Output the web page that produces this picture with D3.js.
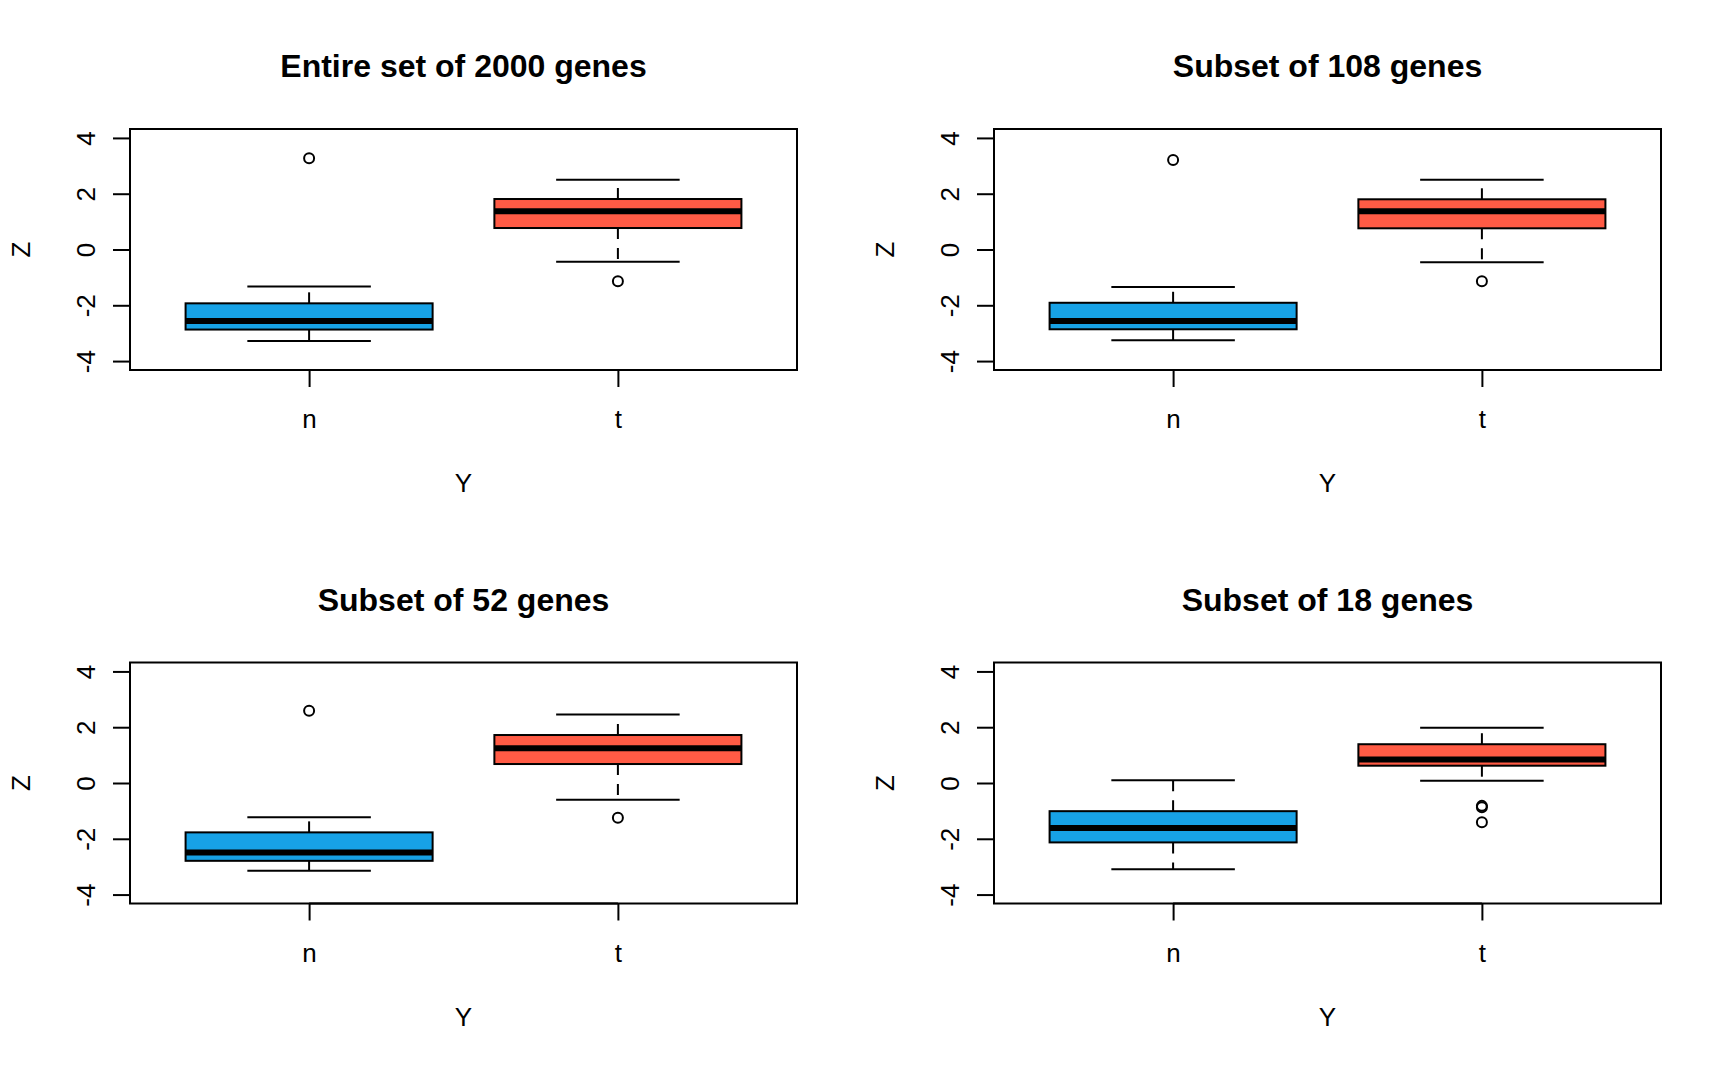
<!DOCTYPE html>
<html>
<head>
<meta charset="utf-8">
<script src="https://cdn.jsdelivr.net/npm/d3@7"></script>
<style>
  body { margin: 0; background: #fff; }
  svg { display: block; }
  text { font-family: "Liberation Sans", Arial, Helvetica, sans-serif; fill: #000; }
</style>
</head>
<body>
<svg id="chart" width="1728" height="1067"></svg>
<script>
// values: [lower whisker, Q1, median, Q3, upper whisker]
var panelTitles = ["Entire set of 2000 genes", "Subset of 108 genes", "Subset of 52 genes", "Subset of 18 genes"];
var groups = ["n", "t"];
var groupColors = ["#17a2e6", "#ff5b45"];
var nStats = [
  [-3.28, -2.87, -2.56, -1.93, -1.33],
  [-3.25, -2.86, -2.56, -1.91, -1.34],
  [-3.15, -2.79, -2.49, -1.77, -1.23],
  [-3.09, -2.13, -1.61, -1.01, 0.10]
];
var tStats = [
  [-0.44, 0.77, 1.37, 1.81, 2.50],
  [-0.46, 0.76, 1.37, 1.80, 2.50],
  [-0.60, 0.68, 1.25, 1.72, 2.46],
  [0.08, 0.62, 0.84, 1.39, 1.98]
];
var nOutliers = [[3.27], [3.21], [2.59], []];
var tOutliers = [[-1.14], [-1.14], [-1.25], [-0.82, -0.87, -1.41]];
var yTicks = [-4, -2, 0, 2, 4];
var xLabel = "Y", yLabel = "Z";

var svg = d3.select("#chart");

var cellW = 864, cellH = 533.5;
var margin = {left: 130, right: 67, top: 129, bottom: 163.5};
var w = cellW - margin.left - margin.right,
    h = cellH - margin.top - margin.bottom;

var x = d3.scaleLinear().domain([0.42, 2.58]).range([0, w]);
var y = d3.scaleLinear().domain([-4.32, 4.32]).range([h, 0]);

var boxHalf = 0.4, capHalf = 0.2;

panelTitles.forEach(function(title, i) {
  var col = i % 2, row = Math.floor(i / 2);
  var g = svg.append("g")
      .attr("transform", "translate(" + (col * cellW + margin.left) + "," + (row * cellH + margin.top) + ")");

  var stats = [nStats[i], tStats[i]];
  var outs = [nOutliers[i], tOutliers[i]];

  groups.forEach(function(grp, j) {
    var s = stats[j], cx = x(j + 1);
    var bg = g.append("g");
    // dashed whiskers, from box edge outwards
    bg.append("line")
      .attr("x1", cx).attr("x2", cx)
      .attr("y1", y(s[1])).attr("y2", y(s[0]))
      .attr("stroke", "#000").attr("stroke-width", 2)
      .attr("stroke-dasharray", "11,9");
    bg.append("line")
      .attr("x1", cx).attr("x2", cx)
      .attr("y1", y(s[3])).attr("y2", y(s[4]))
      .attr("stroke", "#000").attr("stroke-width", 2)
      .attr("stroke-dasharray", "11,9");
    // caps
    [s[0], s[4]].forEach(function(v) {
      bg.append("line")
        .attr("x1", x(j + 1 - capHalf)).attr("x2", x(j + 1 + capHalf))
        .attr("y1", y(v)).attr("y2", y(v))
        .attr("stroke", "#000").attr("stroke-width", 2);
    });
    // box
    bg.append("rect")
      .attr("x", x(j + 1 - boxHalf))
      .attr("width", x(j + 1 + boxHalf) - x(j + 1 - boxHalf))
      .attr("y", y(s[3]))
      .attr("height", y(s[1]) - y(s[3]))
      .attr("fill", groupColors[j])
      .attr("stroke", "#000").attr("stroke-width", 2);
    // median
    bg.append("line")
      .attr("x1", x(j + 1 - boxHalf)).attr("x2", x(j + 1 + boxHalf))
      .attr("y1", y(s[2])).attr("y2", y(s[2]))
      .attr("stroke", "#000").attr("stroke-width", 6);
    // outliers
    bg.selectAll("circle")
      .data(outs[j])
      .enter().append("circle")
      .attr("cx", cx)
      .attr("cy", function(d) { return y(d); })
      .attr("r", 5)
      .attr("fill", "none")
      .attr("stroke", "#000").attr("stroke-width", 2);
  });

  // frame
  g.append("rect")
    .attr("x", 0).attr("y", 0).attr("width", w).attr("height", h)
    .attr("fill", "none").attr("stroke", "#000").attr("stroke-width", 2);

  // y axis ticks
  var yAxis = d3.axisLeft(y).tickValues(yTicks).tickSize(17).tickSizeOuter(0)
    .tickFormat(function(d) { return String(d); });
  var ya = g.append("g").call(yAxis);
  ya.select(".domain").attr("stroke-width", 2).attr("d", "M0," + y(-4) + "V" + y(4));
  ya.selectAll(".tick line").attr("stroke-width", 2);
  ya.selectAll(".tick text")
    .attr("x", null).attr("dy", null)
    .attr("transform", "translate(-35.5,0) rotate(-90)")
    .attr("text-anchor", "middle")
    .attr("font-size", 26)
    .style("font-family", "'Liberation Sans', Arial, Helvetica, sans-serif");

  // x axis ticks
  var xAxis = d3.axisBottom(x).tickValues([1, 2]).tickSize(17).tickSizeOuter(0)
    .tickFormat(function(d) { return groups[d - 1]; });
  var xa = g.append("g").attr("transform", "translate(0," + h + ")").call(xAxis);
  xa.select(".domain").attr("stroke-width", 2).attr("d", "M" + x(1) + ",0H" + x(2));
  xa.selectAll(".tick line").attr("stroke-width", 2);
  xa.selectAll(".tick text")
    .attr("y", 58).attr("dy", null)
    .attr("font-size", 26)
    .style("font-family", "'Liberation Sans', Arial, Helvetica, sans-serif");

  // axis titles
  g.append("text")
    .attr("x", w / 2).attr("y", h + 122)
    .attr("text-anchor", "middle")
    .attr("font-size", 26)
    .text(xLabel);
  g.append("text")
    .attr("transform", "translate(" + (30 - margin.left) + "," + (h / 2) + ") rotate(-90)")
    .attr("text-anchor", "middle")
    .attr("font-size", 26)
    .text(yLabel);

  // title
  g.append("text")
    .attr("x", w / 2).attr("y", 77 - margin.top)
    .attr("text-anchor", "middle")
    .attr("font-size", 32)
    .attr("font-weight", "bold")
    .text(title);
});
</script>
</body>
</html>
